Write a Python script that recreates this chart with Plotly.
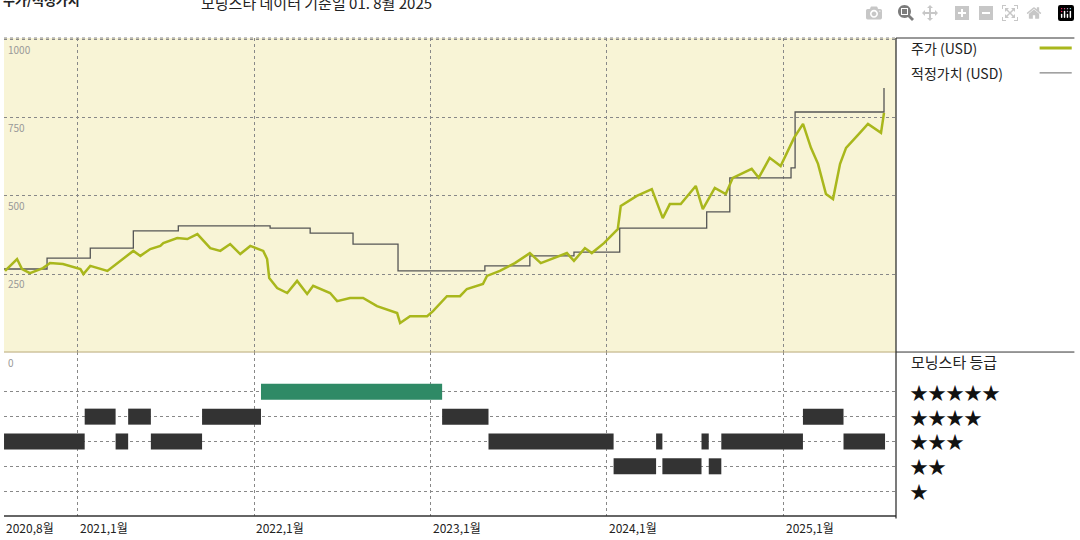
import plotly.graph_objects as go
import pandas as pd

def yr(v):
    y = int(v)
    return pd.Timestamp(year=y, month=1, day=1) + pd.Timedelta(days=(v - y) * 365.25)

# Price (USD), decimal years
price_t = [2020.589,2020.657,2020.685,2020.730,2020.804,2020.844,2020.917,2021.014,2021.031,2021.070,2021.167,2021.240,2021.314,2021.354,2021.410,2021.467,2021.484,2021.563,2021.620,2021.677,2021.750,2021.807,2021.863,2021.920,2021.977,2022.051,2022.073,2022.085,2022.130,2022.187,2022.243,2022.300,2022.334,2022.430,2022.470,2022.543,2022.617,2022.696,2022.810,2022.827,2022.883,2022.980,2023.014,2023.093,2023.167,2023.206,2023.297,2023.320,2023.393,2023.478,2023.563,2023.625,2023.705,2023.773,2023.813,2023.875,2023.914,2023.983,2024.062,2024.079,2024.170,2024.255,2024.317,2024.357,2024.419,2024.504,2024.544,2024.612,2024.674,2024.714,2024.821,2024.861,2024.923,2024.985,2025.059,2025.110,2025.155,2025.195,2025.240,2025.280,2025.320,2025.354,2025.427,2025.478,2025.552,2025.569]
price_v = [260,298,266,253,269,285,282,266,250,276,260,292,324,308,330,340,349,365,362,378,333,324,346,314,340,324,298,237,205,189,228,186,212,189,163,173,173,147,125,93,115,115,131,179,179,202,218,244,260,285,317,285,301,317,292,333,317,349,394,468,500,522,429,474,474,532,458,526,506,558,587,558,622,596,686,731,654,603,506,490,603,654,699,731,702,766]

# Fair value (USD), step changes
fv_t = [2020.583,2020.827,2021.070,2021.314,2021.569,2022.090,2022.317,2022.560,2022.815,2023.308,2023.563,2023.813,2024.073,2024.566,2024.697,2025.042,2025.065,2025.563,2025.569]
fv_v = [266,301,333,388,404,397,381,346,260,276,308,320,397,449,558,590,769,769,846]

# Morningstar rating segments
rt_start = ["2020-08-01","2021-01-15","2021-03-20","2021-04-15","2021-06-01","2021-09-15","2022-01-15","2023-01-25","2023-05-01","2024-01-15","2024-04-12","2024-04-25","2024-07-15","2024-07-30","2024-08-25","2025-02-10","2025-05-05"]
rt_end   = ["2021-01-15","2021-03-20","2021-04-15","2021-06-01","2021-09-15","2022-01-15","2023-01-25","2023-05-01","2024-01-15","2024-04-12","2024-04-25","2024-07-15","2024-07-30","2024-08-25","2025-02-10","2025-05-05","2025-07-30"]
rt_star  = [3,4,3,4,3,4,5,4,3,2,3,2,3,2,3,4,3]

x_ticks = ["2020-08-01","2021-01-01","2022-01-01","2023-01-01","2024-01-01","2025-01-01"]
x_labels = ["2020,8월","2021,1월","2022,1월","2023,1월","2024,1월","2025,1월"]
y_ticks = [250,500,750,1000]

FONT = "Noto Sans CJK KR"
fig = go.Figure()
fig.add_trace(go.Scatter(x=[yr(t) for t in fv_t], y=fv_v, mode="lines", line=dict(color="#555555", width=1.3, shape="hv"), xaxis="x", yaxis="y"))
fig.add_trace(go.Scatter(x=[yr(t) for t in price_t], y=price_v, mode="lines", line=dict(color="#a9b71c", width=2.5), xaxis="x", yaxis="y"))
for s, e, r in zip(rt_start, rt_end, rt_star):
    fig.add_trace(go.Scatter(x=[s, e], y=[r, r], mode="lines", line=dict(color="#2f8a66" if r == 5 else "#333333", width=16), xaxis="x2", yaxis="y2"))

xr = [yr(2020.583), yr(2025.637)]
grid = dict(showgrid=True, gridcolor="#888888", griddash="dot", gridwidth=1)
fig.update_layout(
    width=1080, height=540, margin=dict(l=4, r=184, t=38, b=24),
    paper_bgcolor="white", plot_bgcolor="white", showlegend=False,
    font=dict(family=FONT, color="#222"),
    xaxis=dict(domain=[0, 1], range=xr, anchor="y", tickvals=x_ticks, showticklabels=False, ticks="", zeroline=False, **grid),
    yaxis=dict(domain=[0.343, 1], range=[0, 1006], tickvals=y_ticks, showticklabels=False, zeroline=False, **grid),
    xaxis2=dict(domain=[0, 1], range=xr, anchor="y2", tickvals=x_ticks, showticklabels=False, ticks="", zeroline=False, **grid),
    yaxis2=dict(domain=[0, 0.343], range=[0, 6.6], tickvals=[1,2,3,4,5], showticklabels=False, zeroline=False, **grid),
)
shapes = [
    dict(type="rect", xref="paper", yref="paper", x0=0, x1=1, y0=0.343, y1=1, fillcolor="#f8f4d6", line=dict(width=0), layer="below"),
    dict(type="line", xref="paper", yref="paper", x0=0, x1=1, y0=1, y1=1, line=dict(color="#888", width=1, dash="dot")),
    dict(type="line", xref="paper", yref="paper", x0=0, x1=1, y0=0.343, y1=0.343, line=dict(color="#b9a978", width=1)),
    dict(type="line", xref="paper", yref="paper", x0=0, x1=1, y0=0, y1=0, line=dict(color="#333", width=1.5)),
    dict(type="line", xref="paper", yref="paper", x0=1, x1=1, y0=-0.005, y1=1, line=dict(color="#222", width=1.2)),
    dict(type="line", xref="paper", yref="paper", x0=1.0, x1=1.2, y0=0.343, y1=0.343, line=dict(color="#333", width=1)),
    dict(type="line", xref="paper", yref="paper", x0=1.0, x1=1.2, y0=1.0, y1=1.0, line=dict(color="#333", width=1)),
    dict(type="line", xref="paper", yref="paper", x0=1.161, x1=1.197, y0=0.979, y1=0.979, line=dict(color="#a9b71c", width=3)),
    dict(type="line", xref="paper", yref="paper", x0=1.161, x1=1.197, y0=0.927, y1=0.927, line=dict(color="#666", width=1)),
]
fig.update_layout(shapes=shapes)
ann = [
    dict(text="<b>주가/적정가치</b>", x=-0.003, y=1.08, xref="paper", yref="paper", xanchor="left", yanchor="middle", showarrow=False, font=dict(size=13, color="#222")),
    dict(text="모닝스타 데이터 기준일 01. 8월 2025", x=0.219, y=1.075, xref="paper", yref="paper", xanchor="left", yanchor="middle", showarrow=False, font=dict(size=15, color="#222")),
    dict(text="주가 (USD)", x=1.015, y=0.979, xref="paper", yref="paper", xanchor="left", yanchor="middle", showarrow=False, font=dict(size=14, color="#222")),
    dict(text="적정가치 (USD)", x=1.015, y=0.927, xref="paper", yref="paper", xanchor="left", yanchor="middle", showarrow=False, font=dict(size=14, color="#222")),
    dict(text="모닝스타 등급", x=1.015, y=6.2, xref="paper", yref="y2", xanchor="left", yanchor="middle", showarrow=False, font=dict(size=15, color="#222")),
    dict(text="0", x=0.002, y=6.55, xref="paper", yref="y2", xanchor="left", yanchor="top", showarrow=False, font=dict(size=10, color="#999")),
]
for v in y_ticks:
    ann.append(dict(text=str(v), x=0.002, y=v, xref="paper", yref="y", xanchor="left", yanchor="top", showarrow=False, font=dict(size=10, color="#999")))
for r in [5,4,3,2,1]:
    ann.append(dict(text="★" * r, x=1.013, y=r, xref="paper", yref="y2", xanchor="left", yanchor="middle", showarrow=False, font=dict(size=18, color="#111")))
for t, l in zip(x_ticks, x_labels):
    ann.append(dict(text=l, x=t, y=-0.003, xref="x2", yref="paper", xanchor="left", yanchor="top", showarrow=False, font=dict(size=12, color="#222")))
fig.update_layout(annotations=ann)
fig.write_html("out.html", post_script="document.body.style.margin='0';document.body.style.overflow='hidden';")
